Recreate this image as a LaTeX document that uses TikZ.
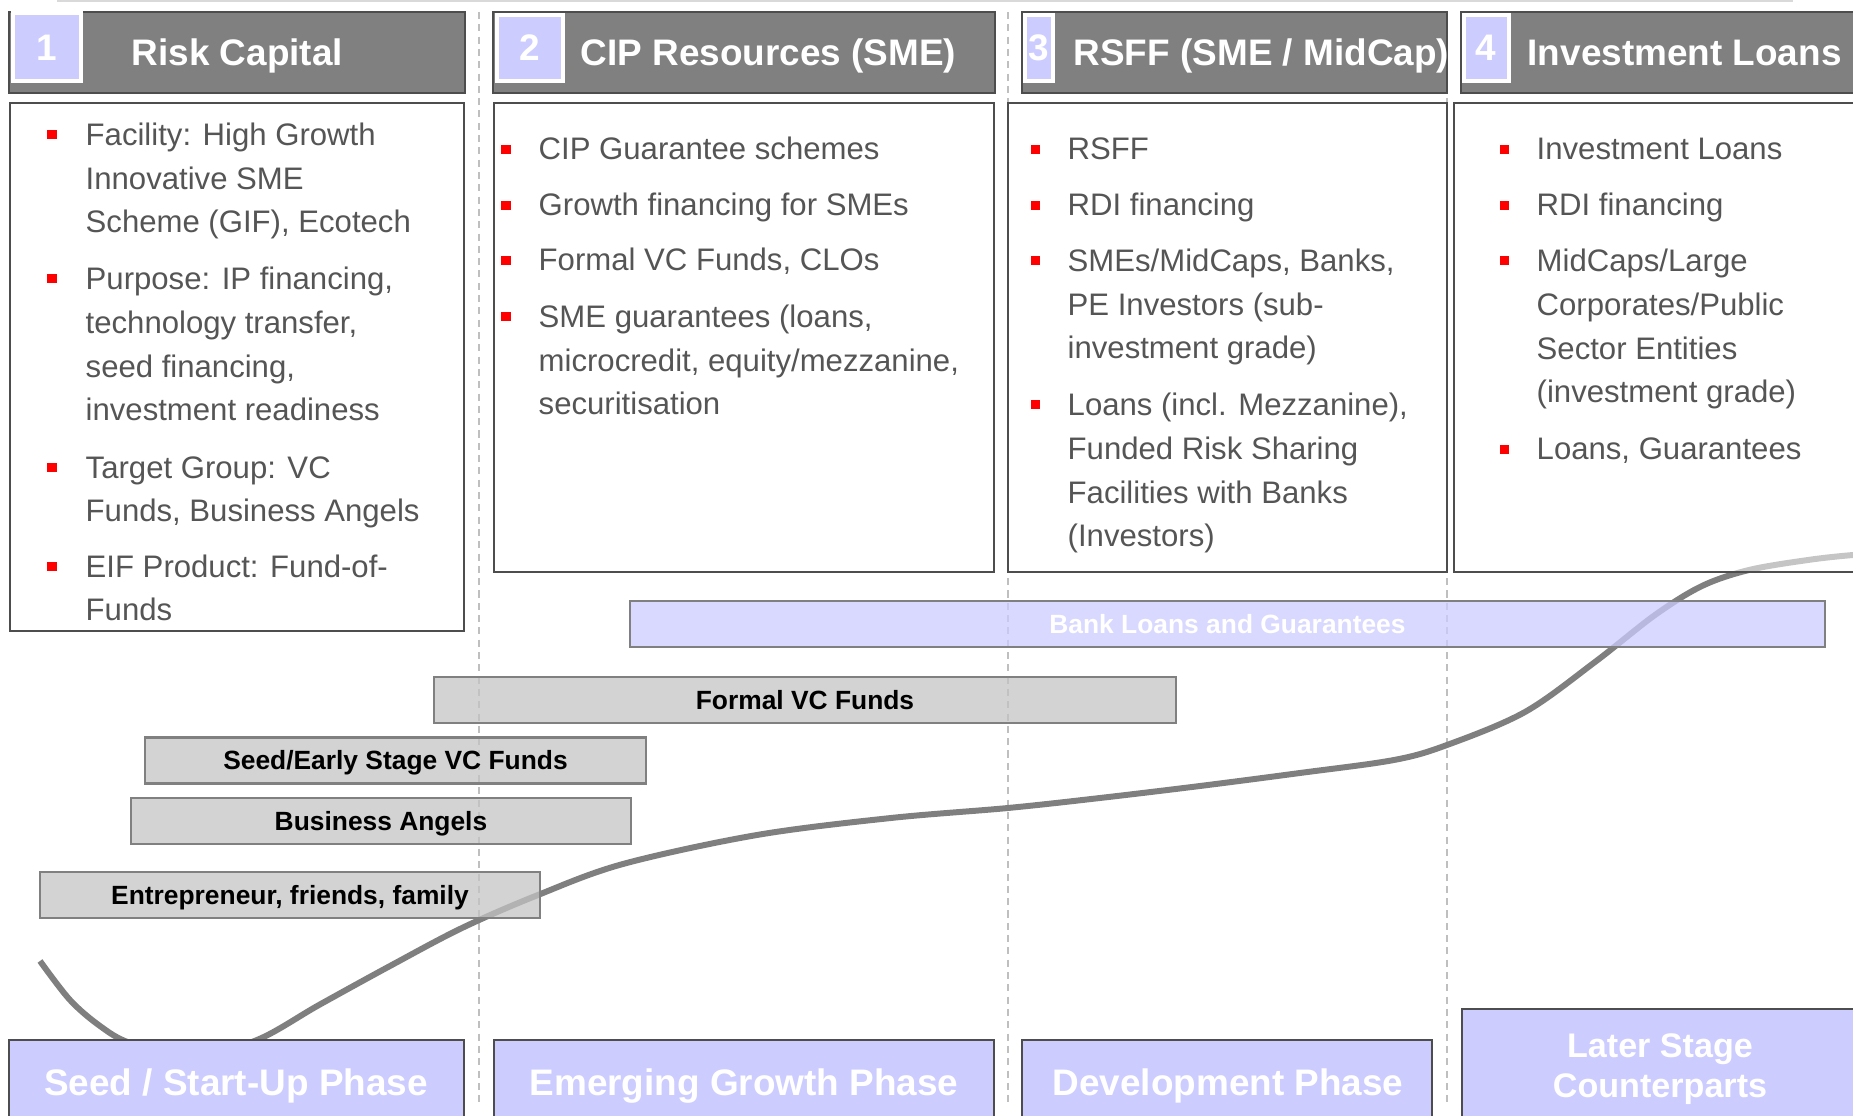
\documentclass[tikz,border=0pt]{standalone}
\usepackage{fontspec}
\setmainfont{Liberation Sans}
\usetikzlibrary{positioning}

\definecolor{hdrgrey}{HTML}{808080}
\definecolor{edgegrey}{HTML}{4D4D4D}
\definecolor{lavender}{HTML}{CCCCFF}
\definecolor{bargrey}{HTML}{C4C4C4}
\definecolor{curvegrey}{HTML}{7F7F7F}
\definecolor{bodytxt}{HTML}{555555}
\definecolor{divgrey}{HTML}{BFBFBF}

\newcommand{\hdrfont}{\fontsize{10.5pt}{12pt}\selectfont\bfseries}
\newcommand{\bodyfont}{\fontsize{8.85pt}{12.5pt}\selectfont}
\newcommand{\barfont}{\fontsize{7.5pt}{9pt}\selectfont\bfseries}
\newcommand{\laterfont}{\fontsize{9.7pt}{11.4pt}\selectfont\bfseries}

\tikzset{
  hdr/.style={fill=hdrgrey, draw=edgegrey, line width=0.4pt},
  numbox/.style={fill=lavender, draw=white, line width=1.1pt},
  numtxt/.style={text=white, font=\hdrfont, inner sep=0pt},
  hdrtxt/.style={text=white, font=\hdrfont, anchor=base west, inner sep=0pt},
  bodybox/.style={draw=edgegrey, line width=0.6pt, fill=white, fill opacity=0.55},
  % base of a multi-line item is the baseline of its last line
  item/.style={anchor=base west, align=left, inner sep=0pt, text=bodytxt, font=\bodyfont},
  redsq/.style={fill=red, minimum size=0.09cm, inner sep=0pt},
  bar/.style={draw=hdrgrey, line width=0.6pt, fill=bargrey, fill opacity=0.75,
    text opacity=1, font=\barfont, text height=0.19cm, text depth=0pt, inner sep=0pt,
    minimum height=0.46cm},
  bankbar/.style={bar, fill=lavender, text=white},
  phasebox/.style={fill=lavender, draw=edgegrey, line width=0.6pt},
  phasetxt/.style={text=white, font=\hdrfont, anchor=base, align=center, inner sep=0pt},
  divider/.style={draw=divgrey, line width=0.5pt, dash pattern=on 2pt off 1.5pt},
  growth/.style={draw=curvegrey, line width=1.7pt},
}

\begin{document}
\begin{tikzpicture}[x=0.01cm, y=-0.01cm]
  \useasboundingbox (0,0) rectangle (1853,1116);
  \begin{scope}
  \clip (0,0) rectangle (1853,1116);

  % thin line on top and column dividers
  \draw[draw=divgrey!60, line width=0.5pt] (57,1) -- (1793,1);
  \foreach \x in {479,1008,1447}
    \draw[divider] (\x,12) -- (\x,1105);

  % growth curve
  \draw[growth] plot[smooth, tension=0.55] coordinates {
    (40,961) (70,1000) (100,1026) (130,1043) (190,1058) (257,1040)
    (319,1005) (390,966) (462,928) (538,895) (623,864) (757,835)
    (891,818) (1008,808) (1100,798) (1200,786) (1300,773) (1394,760)
    (1447,745) (1525,712) (1595,662) (1655,615) (1702,586) (1749,570)
    (1808,560) (1853,555) (1900,552)};

  % body boxes
  \draw[bodybox] (10,103) rectangle (464,631);
  \draw[bodybox] (494,103) rectangle (994,572);
  \draw[bodybox] (1008,103) rectangle (1447,572);
  \draw[bodybox] (1454,103) rectangle (1880,572);

  % headers
  \draw[hdr] (9,12) rectangle (465,93);
  \draw[numbox] (13,13) rectangle (81,81);
  \node[numtxt] (n1) at (47,48) {1};
  \node[hdrtxt] (riskcap) at (131,66) {Risk Capital};

  \draw[hdr] (493,12) rectangle (995,93);
  \draw[numbox] (497,15) rectangle (563,81);
  \node[numtxt] (n2) at (530,48) {2};
  \node[hdrtxt] (cipres) at (580,66) {CIP Resources (SME)};

  \draw[hdr] (1022,12) rectangle (1447,93);
  \draw[numbox] (1025,15) rectangle (1053,81);
  \node[numtxt] (n3) at (1039,48) {3};
  \begin{scope}
    \clip (1022,12) rectangle (1447,93);
    \node[hdrtxt] (rsff) at (1073,66) {RSFF (SME / MidCap)};
  \end{scope}

  \draw[hdr] (1461,12) rectangle (1880,93);
  \draw[numbox] (1464,15) rectangle (1509,81);
  \node[numtxt] (n4) at (1486,48) {4};
  \node[hdrtxt] (invloans) at (1527,66) {Investment Loans};

  % column 1
  \foreach \y [count=\i] in {135,279,468,567}
    \node[redsq] (rcb\i) at (52,\y) {};
  \node[item] (rc1) at (85,233) {Facility: High Growth\\Innovative SME\\Scheme (GIF), Ecotech};
  \node[item] (rc2) at (85,421) {Purpose: IP financing,\\technology transfer,\\seed financing,\\investment readiness};
  \node[item] (rc3) at (85,522) {Target Group: VC\\Funds, Business Angels};
  \node[item] (rc4) at (85,621) {EIF Product: Fund-of-\\Funds};

  % column 2
  \foreach \y [count=\i] in {150,206,261,317}
    \node[redsq] (cipb\i) at (506,\y) {};
  \node[item] (cip1) at (538,160) {CIP Guarantee schemes};
  \node[item] (cip2) at (538,216) {Growth financing for SMEs};
  \node[item] (cip3) at (538,271) {Formal VC Funds, CLOs};
  \node[item] (cip4) at (538,415) {SME guarantees (loans,\\microcredit, equity/mezzanine,\\securitisation};

  % column 3
  \foreach \y [count=\i] in {150,206,261,405}
    \node[redsq] (rsb\i) at (1035,\y) {};
  \node[item] (rs1) at (1067,160) {RSFF};
  \node[item] (rs2) at (1067,216) {RDI financing};
  \node[item] (rs3) at (1067,359) {SMEs/MidCaps, Banks,\\PE Investors (sub-\\investment grade)};
  \node[item] (rs4) at (1067,547) {Loans (incl. Mezzanine),\\Funded Risk Sharing\\Facilities with Banks\\(Investors)};

  % column 4
  \foreach \y [count=\i] in {150,206,261,450}
    \node[redsq] (ilb\i) at (1504,\y) {};
  \node[item] (il1) at (1536,160) {Investment Loans};
  \node[item] (il2) at (1536,216) {RDI financing};
  \node[item] (il3) at (1536,403) {MidCaps/Large\\Corporates/Public\\Sector Entities\\(investment grade)};
  \node[item] (il4) at (1536,460) {Loans, Guarantees};

  % financing bars
  \node[bankbar, minimum width=11.95cm] (bank) at (1227.5,624) {Bank Loans and Guarantees};
  \node[bar, minimum width=7.42cm] (formalvc) at (805,700) {Formal VC Funds};
  \node[bar, minimum width=5.01cm] (seedvc) at (395.5,760.5) {Seed/Early Stage VC Funds};
  \node[bar, minimum width=5.00cm] (angels) at (381,821) {Business Angels};
  \node[bar, minimum width=5.00cm] (family) at (290,895) {Entrepreneur, friends, family};

  % phases
  \draw[phasebox] (9,1040) rectangle (464,1130);
  \node[phasetxt] (seed) at (236,1096) {Seed / Start-Up Phase};
  \draw[phasebox] (494,1040) rectangle (994,1130);
  \node[phasetxt] (emerging) at (744,1096) {Emerging Growth Phase};
  \draw[phasebox] (1022,1040) rectangle (1432,1130);
  \node[phasetxt] (develop) at (1228,1096) {Development Phase};
  \draw[phasebox] (1462,1009) rectangle (1880,1130);
  \node[phasetxt, font=\laterfont] (later) at (1660,1098) {Later Stage\\Counterparts};
  \end{scope}
\end{tikzpicture}
\end{document}
